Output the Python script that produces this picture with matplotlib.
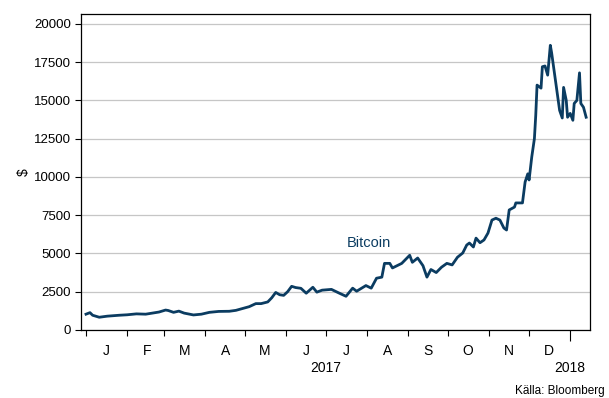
import matplotlib
matplotlib.use("Agg")
import matplotlib.pyplot as plt
import matplotlib.transforms as mtransforms
import pandas as pd

plt.rcParams.update({
    "font.family": ["Liberation Sans", "DejaVu Sans"],
    "font.size": 9.5,
})

# ── Data ──────────────────────────────────────────────────────────────────
dates = [
    "2017-01-01", "2017-01-04", "2017-01-06", "2017-01-11", "2017-01-17",
    "2017-01-26", "2017-02-01", "2017-02-08", "2017-02-15", "2017-02-25",
    "2017-03-02", "2017-03-04", "2017-03-08", "2017-03-12", "2017-03-16",
    "2017-03-23", "2017-03-29", "2017-04-04", "2017-04-11", "2017-04-19",
    "2017-04-24", "2017-04-29", "2017-05-04", "2017-05-09", "2017-05-13",
    "2017-05-18", "2017-05-21", "2017-05-24", "2017-05-27", "2017-05-30",
    "2017-06-02", "2017-06-05", "2017-06-08", "2017-06-12", "2017-06-16",
    "2017-06-21", "2017-06-24", "2017-06-28", "2017-07-05", "2017-07-11",
    "2017-07-16", "2017-07-21", "2017-07-24", "2017-07-31", "2017-08-04",
    "2017-08-08", "2017-08-12", "2017-08-14", "2017-08-18", "2017-08-20",
    "2017-08-27", "2017-09-02", "2017-09-04", "2017-09-08", "2017-09-12",
    "2017-09-15", "2017-09-18", "2017-09-22", "2017-09-26", "2017-09-30",
    "2017-10-04", "2017-10-08", "2017-10-12", "2017-10-15", "2017-10-17",
    "2017-10-20", "2017-10-22", "2017-10-25", "2017-10-28", "2017-10-31",
    "2017-11-03", "2017-11-06", "2017-11-09", "2017-11-12", "2017-11-14",
    "2017-11-16", "2017-11-20", "2017-11-21", "2017-11-26", "2017-11-28",
    "2017-11-30", "2017-12-01", "2017-12-03", "2017-12-05", "2017-12-06",
    "2017-12-07", "2017-12-10", "2017-12-11", "2017-12-13", "2017-12-15",
    "2017-12-17", "2017-12-18", "2017-12-20", "2017-12-24", "2017-12-26",
    "2017-12-27", "2017-12-29", "2017-12-30", "2018-01-01", "2018-01-03",
    "2018-01-04", "2018-01-06", "2018-01-08", "2018-01-09", "2018-01-11",
    "2018-01-13",
]
bitcoin = [
    1030, 1130, 960, 830, 900,
    960, 990, 1050, 1030, 1170,
    1300, 1270, 1150, 1230, 1100,
    980, 1030, 1150, 1210, 1220,
    1280, 1400, 1520, 1720, 1720,
    1830, 2100, 2450, 2300, 2260,
    2500, 2850, 2770, 2720, 2400,
    2790, 2470, 2600, 2650, 2400,
    2200, 2730, 2530, 2900, 2730,
    3380, 3450, 4350, 4350, 4050,
    4350, 4880, 4420, 4700, 4200,
    3450, 3950, 3750, 4100, 4350,
    4250, 4750, 5030, 5550, 5680,
    5420, 6000, 5700, 5880, 6330,
    7180, 7300, 7180, 6660, 6530,
    7840, 8030, 8300, 8300, 9670,
    10200, 9800, 11300, 12500, 14000,
    16000, 15800, 17200, 17250, 16650,
    18600, 18100, 16850, 14350, 13850,
    15850, 15000, 13900, 14150, 13700,
    14800, 15000, 16800, 14800, 14550,
    13900,
]
month_letters = ["J", "F", "M", "A", "M", "J", "J", "A", "S", "O", "N", "D"]
y_ticks = [0, 2500, 5000, 7500, 10000, 12500, 15000, 17500, 20000]

NAVY = "#0b3c61"

x = pd.to_datetime(dates)

fig = plt.figure(figsize=(6.09, 3.98), dpi=100)
ax = fig.add_axes([0.1325, 0.171, 0.8365, 0.794])

ax.plot(x, bitcoin, color=NAVY, linewidth=2.0, zorder=3)

# y axis
ax.set_ylim(0, 20650)
ax.set_yticks(y_ticks)
ax.set_yticklabels([str(v) for v in y_ticks])
ax.yaxis.grid(True, color="#c6c6c6", linewidth=0.9)
ax.set_axisbelow(True)
ax.set_ylabel("$", fontsize=10, labelpad=2)
ax.tick_params(axis="y", direction="out", length=4, width=0.8, pad=3)

# x axis: ticks at month starts, letters mid-month
ax.set_xlim(pd.Timestamp("2016-12-28"), pd.Timestamp("2018-01-16"))
starts = pd.date_range("2017-01-01", "2018-01-01", freq="MS")
mids = pd.date_range("2017-01-01", "2017-12-01", freq="MS") + pd.Timedelta(days=15)
ax.set_xticks(starts)
ax.set_xticklabels([""] * len(starts))
ax.set_xticks(mids, minor=True)
ax.set_xticklabels(month_letters, minor=True)
ax.tick_params(axis="x", which="major", direction="out", length=4, width=0.8)
ax.tick_params(axis="x", which="minor", length=0, pad=10, labelsize=10)
ax.xaxis.get_major_ticks()[-1].tick1line.set_markersize(8)

for s in ax.spines.values():
    s.set_linewidth(0.9)
    s.set_color("black")

trans = mtransforms.blended_transform_factory(ax.transData, ax.transAxes)
ax.text(pd.Timestamp("2017-07-01"), -0.098, "2017", transform=trans,
        ha="center", va="top", fontsize=10)
ax.text(pd.Timestamp("2018-01-01"), -0.098, "2018", transform=trans,
        ha="center", va="top", fontsize=10)

ax.text(pd.Timestamp("2017-08-02"), 5650, "Bitcoin", color=NAVY,
        ha="center", va="center", fontsize=10.5)

fig.text(0.993, 0.002, "Källa: Bloomberg", ha="right", va="bottom", fontsize=8.5)

fig.savefig("out.png", dpi=100)
